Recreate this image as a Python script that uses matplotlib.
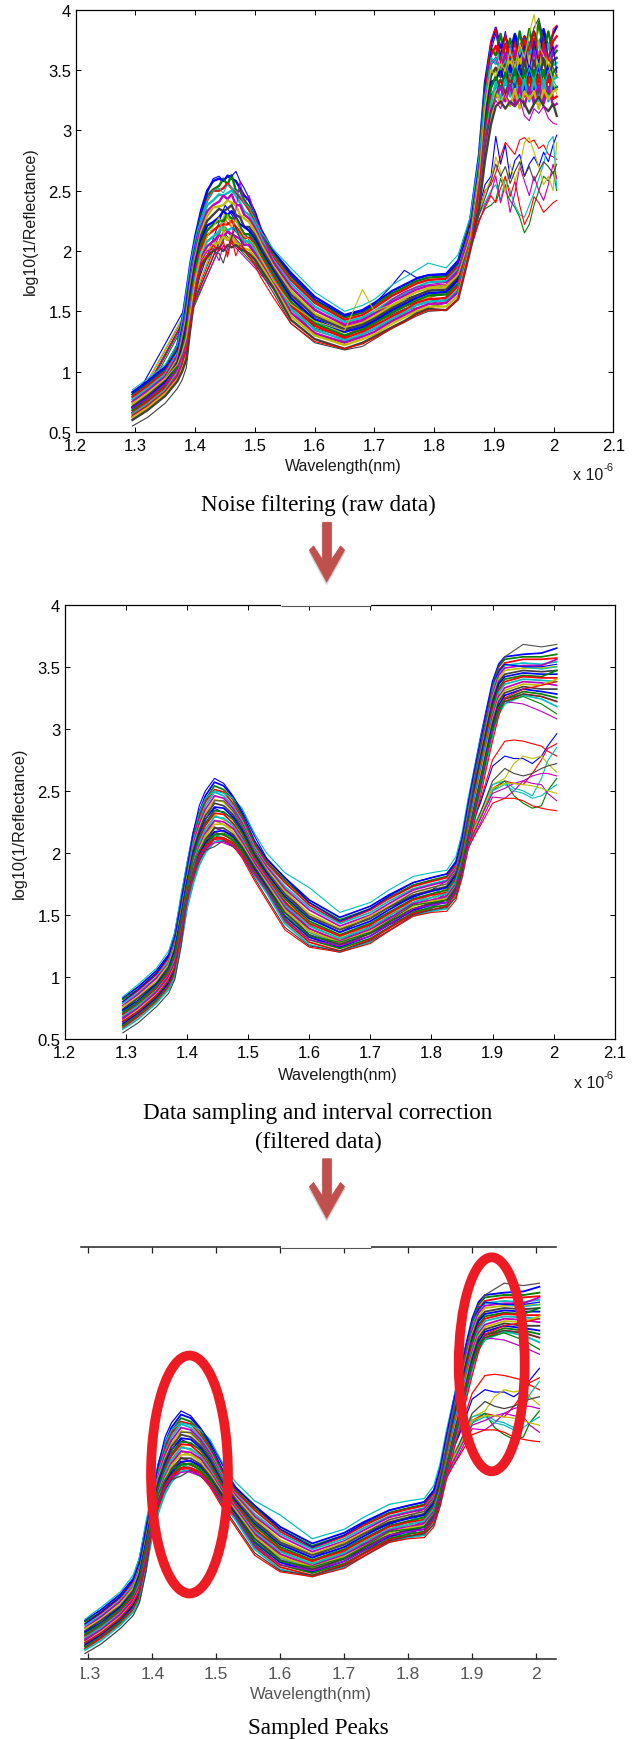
import numpy as np
import matplotlib
matplotlib.use("Agg")
import matplotlib.pyplot as plt
from matplotlib.patches import Ellipse, Polygon, Rectangle

W, H = 635, 1740

# matlab line colours
line_colors = ["#0000ff", "#008000", "#ff0000", "#00bfbf", "#bf00bf", "#bfbf00", "#404040"]

x_ticks = [1.2, 1.3, 1.4, 1.5, 1.6, 1.7, 1.8, 1.9, 2.0, 2.1]
x_labels = ["1.2", "1.3", "1.4", "1.5", "1.6", "1.7", "1.8", "1.9", "2", "2.1"]
y_ticks = [0.5, 1, 1.5, 2, 2.5, 3, 3.5, 4]
y_labels = ["0.5", "1", "1.5", "2", "2.5", "3", "3.5", "4"]
crop_ticks = [1.3, 1.4, 1.5, 1.6, 1.7, 1.8, 1.9, 2.0]
crop_labels = ["1.3", "1.4", "1.5", "1.6", "1.7", "1.8", "1.9", "2"]

# filtered spectra, one row per wavelength, one column per sample
filtered_wave = [1.295, 1.32, 1.35, 1.37, 1.38, 1.39, 1.40, 1.41, 1.42, 1.43, 1.445, 1.46, 1.475, 1.49, 1.51, 1.53, 1.56, 1.60,
                 1.65, 1.70, 1.73, 1.77, 1.80, 1.825, 1.84, 1.85, 1.86, 1.87, 1.88, 1.89, 1.90, 1.91, 1.92, 1.95, 1.98, 2.005]
filtered_main = [
    [.83, .82, .80, .79, .77, .76, .74, .73, .71, .70, .68, .67, .65, .64, .62, .61, .59, .58],
    [.92, .90, .89, .87, .86, .84, .83, .81, .80, .78, .77, .75, .74, .72, .71, .69, .68, .66],
    [1.05, 1.03, 1.02, 1.00, .99, .97, .95, .94, .92, .91, .89, .88, .86, .85, .83, .82, .80, .79],
    [1.18, 1.16, 1.15, 1.13, 1.11, 1.10, 1.08, 1.06, 1.05, 1.03, 1.01, 1.00, .98, .96, .95, .93, .92, .90],
    [1.35, 1.33, 1.31, 1.29, 1.27, 1.25, 1.23, 1.21, 1.19, 1.16, 1.14, 1.12, 1.10, 1.08, 1.06, 1.04, 1.02, 1.00],
    [1.62, 1.60, 1.58, 1.55, 1.53, 1.51, 1.49, 1.47, 1.45, 1.42, 1.40, 1.38, 1.36, 1.34, 1.31, 1.29, 1.27, 1.25],
    [1.90, 1.88, 1.86, 1.84, 1.82, 1.80, 1.78, 1.76, 1.74, 1.71, 1.69, 1.67, 1.65, 1.63, 1.61, 1.59, 1.57, 1.55],
    [2.16, 2.14, 2.11, 2.09, 2.06, 2.04, 2.02, 1.99, 1.97, 1.94, 1.92, 1.89, 1.87, 1.85, 1.82, 1.80, 1.77, 1.75],
    [2.33, 2.30, 2.28, 2.25, 2.23, 2.20, 2.18, 2.15, 2.13, 2.10, 2.08, 2.05, 2.03, 2.00, 1.98, 1.95, 1.93, 1.90],
    [2.46, 2.43, 2.41, 2.38, 2.35, 2.32, 2.30, 2.27, 2.24, 2.22, 2.19, 2.16, 2.14, 2.11, 2.08, 2.05, 2.03, 2.00],
    [2.57, 2.54, 2.51, 2.49, 2.46, 2.43, 2.40, 2.37, 2.34, 2.32, 2.29, 2.26, 2.23, 2.20, 2.17, 2.15, 2.12, 2.09],
    [2.54, 2.51, 2.49, 2.46, 2.44, 2.41, 2.38, 2.36, 2.33, 2.31, 2.28, 2.25, 2.23, 2.20, 2.18, 2.15, 2.12, 2.10],
    [2.45, 2.43, 2.40, 2.38, 2.36, 2.33, 2.31, 2.29, 2.27, 2.24, 2.22, 2.20, 2.17, 2.15, 2.13, 2.10, 2.08, 2.06],
    [2.32, 2.30, 2.28, 2.26, 2.24, 2.22, 2.20, 2.18, 2.16, 2.13, 2.11, 2.09, 2.07, 2.05, 2.03, 2.01, 1.99, 1.97],
    [2.10, 2.08, 2.07, 2.05, 2.03, 2.02, 2.00, 1.98, 1.97, 1.95, 1.93, 1.92, 1.90, 1.89, 1.87, 1.85, 1.84, 1.82],
    [1.95, 1.93, 1.92, 1.90, 1.89, 1.87, 1.85, 1.84, 1.82, 1.81, 1.79, 1.78, 1.76, 1.74, 1.73, 1.71, 1.70, 1.68],
    [1.80, 1.78, 1.76, 1.73, 1.71, 1.69, 1.67, 1.65, 1.63, 1.60, 1.58, 1.56, 1.54, 1.52, 1.49, 1.47, 1.45, 1.43],
    [1.62, 1.60, 1.58, 1.56, 1.54, 1.51, 1.49, 1.47, 1.45, 1.43, 1.41, 1.39, 1.37, 1.34, 1.32, 1.30, 1.28, 1.26],
    [1.48, 1.46, 1.44, 1.43, 1.41, 1.39, 1.38, 1.36, 1.34, 1.33, 1.31, 1.29, 1.28, 1.26, 1.24, 1.23, 1.21, 1.20],
    [1.57, 1.55, 1.54, 1.52, 1.50, 1.49, 1.47, 1.45, 1.43, 1.42, 1.40, 1.38, 1.37, 1.35, 1.33, 1.31, 1.30, 1.28],
    [1.66, 1.64, 1.63, 1.61, 1.59, 1.57, 1.56, 1.54, 1.52, 1.51, 1.49, 1.47, 1.45, 1.44, 1.42, 1.40, 1.39, 1.37],
    [1.76, 1.74, 1.73, 1.71, 1.70, 1.68, 1.66, 1.65, 1.63, 1.62, 1.60, 1.59, 1.57, 1.55, 1.54, 1.52, 1.51, 1.49],
    [1.80, 1.78, 1.77, 1.75, 1.74, 1.72, 1.70, 1.69, 1.67, 1.66, 1.64, 1.62, 1.61, 1.59, 1.58, 1.56, 1.54, 1.53],
    [1.83, 1.81, 1.80, 1.78, 1.77, 1.75, 1.73, 1.72, 1.70, 1.68, 1.67, 1.65, 1.63, 1.62, 1.60, 1.58, 1.57, 1.55],
    [1.93, 1.91, 1.90, 1.88, 1.87, 1.85, 1.83, 1.82, 1.80, 1.78, 1.77, 1.75, 1.73, 1.72, 1.70, 1.68, 1.67, 1.65],
    [2.12, 2.10, 2.08, 2.06, 2.05, 2.03, 2.01, 1.99, 1.97, 1.95, 1.93, 1.91, 1.89, 1.88, 1.86, 1.84, 1.82, 1.80],
    [2.40, 2.38, 2.36, 2.34, 2.32, 2.30, 2.28, 2.26, 2.24, 2.21, 2.19, 2.17, 2.15, 2.13, 2.11, 2.09, 2.07, 2.05],
    [2.66, 2.64, 2.62, 2.59, 2.57, 2.55, 2.53, 2.50, 2.48, 2.46, 2.44, 2.41, 2.39, 2.37, 2.35, 2.32, 2.30, 2.28],
    [2.92, 2.89, 2.87, 2.84, 2.82, 2.79, 2.77, 2.74, 2.72, 2.69, 2.67, 2.64, 2.62, 2.59, 2.57, 2.54, 2.52, 2.50],
    [3.15, 3.12, 3.10, 3.07, 3.05, 3.02, 3.00, 2.97, 2.95, 2.92, 2.90, 2.87, 2.85, 2.82, 2.80, 2.77, 2.75, 2.72],
    [3.38, 3.35, 3.33, 3.30, 3.28, 3.25, 3.23, 3.20, 3.18, 3.15, 3.12, 3.10, 3.07, 3.05, 3.02, 3.00, 2.97, 2.95],
    [3.52, 3.50, 3.47, 3.45, 3.43, 3.40, 3.38, 3.36, 3.33, 3.31, 3.29, 3.26, 3.24, 3.22, 3.19, 3.17, 3.15, 3.12],
    [3.58, 3.56, 3.53, 3.51, 3.49, 3.47, 3.44, 3.42, 3.40, 3.38, 3.36, 3.33, 3.31, 3.29, 3.27, 3.24, 3.22, 3.20],
    [3.60, 3.58, 3.56, 3.53, 3.51, 3.49, 3.47, 3.45, 3.43, 3.42, 3.40, 3.38, 3.36, 3.34, 3.32, 3.30, 3.28, 3.27],
    [3.61, 3.58, 3.56, 3.52, 3.51, 3.49, 3.46, 3.44, 3.42, 3.41, 3.39, 3.37, 3.35, 3.32, 3.30, 3.28, 3.26, 3.24],
    [3.65, 3.60, 3.57, 3.54, 3.56, 3.50, 3.47, 3.44, 3.47, 3.41, 3.38, 3.35, 3.40, 3.32, 3.28, 3.25, 3.22, 3.18],
]
# outer curves of the band, one row per sample
filtered_edge_colors = ["#00bfbf", "#0000ff", "#404040", "#ff0000", "#505050", "#bf00bf", "#008000"]
filtered_edge = [
    [.84, .94, 1.07, 1.21, 1.36, 1.66, 1.92, 2.16, 2.33, 2.44, 2.50, 2.48, 2.44, 2.36, 2.16, 2.00, 1.84, 1.72, 1.52, 1.60, 1.70, 1.81, 1.84, 1.86, 1.97, 2.16, 2.44, 2.68, 2.92, 3.14, 3.33, 3.46, 3.52, 3.50, 3.48, 3.50],
    [.80, .90, 1.03, 1.17, 1.32, 1.60, 1.88, 2.16, 2.38, 2.50, 2.60, 2.56, 2.46, 2.34, 2.14, 1.96, 1.80, 1.60, 1.45, 1.55, 1.65, 1.76, 1.80, 1.83, 1.92, 2.12, 2.40, 2.66, 2.90, 3.14, 3.36, 3.46, 3.52, 3.50, 3.50, 3.52],
    [.55, .63, .76, .87, .98, 1.24, 1.62, 1.84, 1.94, 2.02, 2.05, 2.10, 2.05, 1.98, 1.80, 1.64, 1.40, 1.25, 1.21, 1.29, 1.37, 1.50, 1.54, 1.56, 1.64, 1.84, 2.08, 2.30, 2.52, 2.76, 2.98, 3.14, 3.24, 3.28, 3.26, 3.22],
    [.64, .72, .85, .98, 1.08, 1.32, 1.60, 1.84, 1.98, 2.06, 2.11, 2.11, 2.06, 1.96, 1.78, 1.62, 1.38, 1.24, 1.20, 1.27, 1.37, 1.49, 1.52, 1.53, 1.62, 1.80, 2.03, 2.24, 2.45, 2.68, 2.90, 3.10, 3.25, 3.32, 3.35, 3.38],
    [.70, .79, .92, 1.05, 1.18, 1.44, 1.70, 1.96, 2.12, 2.26, 2.42, 2.42, 2.34, 2.22, 2.02, 1.86, 1.66, 1.48, 1.38, 1.47, 1.56, 1.68, 1.72, 1.75, 1.85, 2.05, 2.30, 2.58, 2.85, 3.10, 3.35, 3.50, 3.58, 3.68, 3.66, 3.68],
    [.66, .75, .88, 1.01, 1.12, 1.36, 1.62, 1.84, 1.96, 2.04, 2.08, 2.09, 2.06, 1.98, 1.83, 1.70, 1.46, 1.30, 1.25, 1.33, 1.42, 1.55, 1.58, 1.60, 1.70, 1.88, 2.10, 2.33, 2.55, 2.78, 2.98, 3.14, 3.22, 3.20, 3.14, 3.08],
    [.72, .80, .93, 1.06, 1.17, 1.42, 1.68, 1.90, 2.02, 2.10, 2.15, 2.16, 2.12, 2.03, 1.86, 1.72, 1.50, 1.33, 1.28, 1.36, 1.45, 1.58, 1.60, 1.62, 1.73, 1.92, 2.15, 2.36, 2.58, 2.80, 3.00, 3.14, 3.22, 3.26, 3.20, 3.12],
]
# low group on the right, the body is hidden inside the band
filtered_low_wave = [1.295, 1.35, 1.38, 1.40, 1.42, 1.445, 1.49, 1.53, 1.60, 1.65, 1.73, 1.80, 1.84, 1.86, 1.88, 1.90, 1.92, 1.935, 1.95, 1.965, 1.98, 1.99, 2.005]
filtered_low_colors = ["#ff0000", "#0000ff", "#ff0000", "#bfbf00", "#00bfbf", "#404040", "#008000", "#bf00bf", "#ff0000", "#00bfbf", "#bf00bf", "#bfbf00"]
filtered_low = [
    [.70, .91, 1.12, 1.66, 2.06, 2.26, 2.16, 1.80, 1.42, 1.30, 1.50, 1.64, 1.76, 2.12, 2.42, 2.75, 2.90, 2.91, 2.90, 2.88, 2.86, 2.82, 2.78],
    [.74, .95, 1.16, 1.72, 2.14, 2.36, 2.24, 1.86, 1.48, 1.36, 1.56, 1.70, 1.82, 2.15, 2.40, 2.70, 2.78, 2.76, 2.76, 2.72, 2.78, 2.86, 2.96],
    [.62, .83, 1.05, 1.58, 1.96, 2.15, 2.06, 1.74, 1.36, 1.26, 1.45, 1.59, 1.70, 2.06, 2.28, 2.52, 2.58, 2.56, 2.55, 2.64, 2.75, 2.84, 2.88],
    [.66, .87, 1.10, 1.62, 2.02, 2.26, 2.16, 1.80, 1.41, 1.30, 1.50, 1.62, 1.74, 2.10, 2.32, 2.55, 2.60, 2.72, 2.78, 2.76, 2.78, 2.72, 2.65],
    [.68, .89, 1.11, 1.64, 2.06, 2.30, 2.20, 1.84, 1.44, 1.33, 1.52, 1.66, 1.78, 2.12, 2.33, 2.55, 2.58, 2.52, 2.50, 2.46, 2.60, 2.74, 2.85],
    [.64, .85, 1.07, 1.60, 1.98, 2.20, 2.12, 1.76, 1.39, 1.29, 1.48, 1.60, 1.72, 2.08, 2.32, 2.58, 2.68, 2.64, 2.62, 2.64, 2.68, 2.70, 2.72],
    [.60, .81, 1.03, 1.56, 1.94, 2.14, 2.04, 1.72, 1.34, 1.25, 1.43, 1.56, 1.68, 2.04, 2.28, 2.50, 2.58, 2.46, 2.40, 2.36, 2.38, 2.50, 2.60],
    [.63, .84, 1.06, 1.58, 1.94, 2.11, 2.02, 1.70, 1.33, 1.24, 1.42, 1.55, 1.67, 2.03, 2.24, 2.45, 2.44, 2.50, 2.58, 2.62, 2.64, 2.64, 2.62],
    [.66, .87, 1.09, 1.60, 1.98, 2.17, 2.08, 1.76, 1.37, 1.27, 1.46, 1.58, 1.70, 2.05, 2.22, 2.40, 2.44, 2.44, 2.42, 2.38, 2.36, 2.35, 2.34],
    [.61, .82, 1.04, 1.56, 1.96, 2.15, 2.06, 1.74, 1.36, 1.26, 1.45, 1.57, 1.69, 2.05, 2.27, 2.50, 2.55, 2.50, 2.48, 2.44, 2.46, 2.50, 2.55],
    [.65, .86, 1.08, 1.60, 2.00, 2.21, 2.10, 1.78, 1.39, 1.28, 1.47, 1.60, 1.72, 2.06, 2.28, 2.48, 2.52, 2.56, 2.58, 2.56, 2.55, 2.48, 2.42],
    [.69, .90, 1.12, 1.64, 2.06, 2.31, 2.18, 1.82, 1.43, 1.32, 1.51, 1.64, 1.76, 2.10, 2.30, 2.52, 2.56, 2.56, 2.55, 2.54, 2.52, 2.50, 2.48],
]

# raw spectra, same layout
raw_wave = [1.295, 1.32, 1.35, 1.37, 1.378, 1.385, 1.392, 1.40, 1.41, 1.42, 1.43, 1.44, 1.447, 1.454, 1.461, 1.468, 1.475, 1.482,
            1.49, 1.50, 1.51, 1.53, 1.56, 1.60, 1.65, 1.68, 1.70, 1.73, 1.75, 1.77, 1.79, 1.82, 1.84, 1.86, 1.875,
            1.885, 1.895, 1.903, 1.911, 1.919, 1.927, 1.935, 1.943, 1.951, 1.959, 1.967, 1.975, 1.983, 1.991, 1.999, 2.005]
raw_main = [
    [.83, .81, .79, .77, .75, .73, .71, .70, .68, .66, .65, .63, .62, .60],
    [.92, .90, .88, .86, .84, .82, .80, .78, .76, .75, .73, .71, .70, .68],
    [1.04, 1.02, 1.00, .98, .96, .94, .93, .91, .89, .87, .85, .83, .82, .80],
    [1.22, 1.20, 1.17, 1.15, 1.13, 1.10, 1.08, 1.06, 1.04, 1.01, .99, .97, .94, .92],
    [1.42, 1.39, 1.36, 1.32, 1.29, 1.26, 1.23, 1.19, 1.16, 1.13, 1.10, 1.06, 1.03, 1.00],
    [1.66, 1.62, 1.57, 1.53, 1.49, 1.44, 1.40, 1.36, 1.32, 1.27, 1.23, 1.19, 1.14, 1.10],
    [1.90, 1.86, 1.82, 1.78, 1.75, 1.71, 1.67, 1.63, 1.59, 1.55, 1.52, 1.48, 1.44, 1.40],
    [2.12, 2.08, 2.05, 2.01, 1.98, 1.94, 1.91, 1.87, 1.84, 1.80, 1.77, 1.73, 1.70, 1.66],
    [2.34, 2.30, 2.27, 2.23, 2.20, 2.16, 2.13, 2.09, 2.06, 2.02, 1.99, 1.95, 1.92, 1.88],
    [2.50, 2.46, 2.42, 2.38, 2.33, 2.29, 2.25, 2.21, 2.17, 2.13, 2.08, 2.04, 2.00, 1.96],
    [2.58, 2.51, 2.50, 2.42, 2.38, 2.36, 2.30, 2.24, 2.22, 2.17, 2.12, 2.08, 2.05, 2.00],
    [2.60, 2.54, 2.50, 2.47, 2.41, 2.37, 2.35, 2.28, 2.25, 2.21, 2.16, 2.13, 2.07, 2.03],
    [2.58, 2.60, 2.52, 2.46, 2.46, 2.38, 2.33, 2.33, 2.25, 2.22, 2.20, 2.12, 2.12, 2.00],
    [2.62, 2.55, 2.56, 2.48, 2.43, 2.42, 2.35, 2.30, 2.30, 2.22, 2.17, 2.16, 2.09, 2.05],
    [2.60, 2.63, 2.52, 2.50, 2.47, 2.40, 2.38, 2.33, 2.27, 2.25, 2.19, 2.14, 2.13, 2.03],
    [2.58, 2.50, 2.48, 2.46, 2.38, 2.38, 2.30, 2.28, 2.27, 2.20, 2.18, 2.12, 2.06, 2.05],
    [2.52, 2.50, 2.44, 2.40, 2.38, 2.30, 2.28, 2.22, 2.20, 2.16, 2.12, 2.10, 2.05, 2.02],
    [2.46, 2.42, 2.40, 2.33, 2.30, 2.27, 2.20, 2.20, 2.14, 2.11, 2.08, 2.05, 2.02, 2.00],
    [2.42, 2.37, 2.34, 2.30, 2.27, 2.24, 2.20, 2.17, 2.14, 2.11, 2.08, 2.05, 2.01, 1.98],
    [2.32, 2.28, 2.25, 2.22, 2.19, 2.16, 2.13, 2.10, 2.07, 2.04, 2.01, 1.98, 1.95, 1.93],
    [2.18, 2.16, 2.13, 2.11, 2.08, 2.06, 2.03, 2.00, 1.98, 1.95, 1.93, 1.90, 1.88, 1.85],
    [2.00, 1.98, 1.95, 1.93, 1.91, 1.88, 1.86, 1.84, 1.82, 1.79, 1.77, 1.75, 1.72, 1.70],
    [1.82, 1.79, 1.76, 1.73, 1.70, 1.67, 1.64, 1.61, 1.58, 1.55, 1.52, 1.49, 1.46, 1.43],
    [1.62, 1.59, 1.57, 1.54, 1.51, 1.48, 1.46, 1.43, 1.40, 1.38, 1.35, 1.32, 1.30, 1.27],
    [1.47, 1.45, 1.43, 1.41, 1.39, 1.37, 1.35, 1.33, 1.30, 1.28, 1.26, 1.24, 1.22, 1.19],
    [1.51, 1.49, 1.47, 1.45, 1.43, 1.41, 1.39, 1.37, 1.35, 1.33, 1.31, 1.29, 1.27, 1.24],
    [1.57, 1.55, 1.53, 1.50, 1.48, 1.46, 1.44, 1.42, 1.40, 1.38, 1.36, 1.33, 1.31, 1.29],
    [1.67, 1.65, 1.63, 1.60, 1.58, 1.55, 1.53, 1.51, 1.49, 1.46, 1.44, 1.42, 1.40, 1.37],
    [1.72, 1.70, 1.68, 1.65, 1.63, 1.61, 1.58, 1.56, 1.54, 1.51, 1.49, 1.47, 1.45, 1.42],
    [1.77, 1.75, 1.73, 1.70, 1.68, 1.66, 1.63, 1.61, 1.59, 1.57, 1.55, 1.52, 1.50, 1.48],
    [1.80, 1.78, 1.76, 1.74, 1.71, 1.69, 1.67, 1.65, 1.63, 1.60, 1.58, 1.56, 1.54, 1.52],
    [1.81, 1.79, 1.77, 1.75, 1.72, 1.70, 1.68, 1.66, 1.64, 1.61, 1.59, 1.57, 1.54, 1.51],
    [1.92, 1.90, 1.87, 1.85, 1.83, 1.80, 1.78, 1.76, 1.73, 1.71, 1.68, 1.66, 1.63, 1.60],
    [2.25, 2.23, 2.21, 2.19, 2.17, 2.15, 2.13, 2.12, 2.10, 2.08, 2.06, 2.04, 2.02, 2.00],
    [2.80, 2.76, 2.73, 2.69, 2.66, 2.62, 2.59, 2.55, 2.52, 2.48, 2.45, 2.42, 2.38, 2.35],
    [3.40, 3.35, 3.30, 3.25, 3.20, 3.15, 3.10, 3.05, 3.00, 2.95, 2.90, 2.85, 2.80, 2.75],
    [3.72, 3.68, 3.62, 3.60, 3.55, 3.50, 3.45, 3.40, 3.35, 3.28, 3.22, 3.16, 3.10, 3.05],
    [3.85, 3.62, 3.70, 3.55, 3.60, 3.48, 3.52, 3.42, 3.45, 3.36, 3.40, 3.28, 3.32, 3.20],
    [3.68, 3.80, 3.58, 3.66, 3.50, 3.56, 3.44, 3.50, 3.34, 3.42, 3.26, 3.36, 3.22, 3.24],
    [3.78, 3.60, 3.72, 3.52, 3.64, 3.46, 3.58, 3.38, 3.48, 3.30, 3.42, 3.24, 3.30, 3.18],
    [3.65, 3.76, 3.55, 3.68, 3.48, 3.60, 3.40, 3.54, 3.32, 3.46, 3.28, 3.38, 3.20, 3.24],
    [3.80, 3.58, 3.74, 3.50, 3.66, 3.44, 3.56, 3.36, 3.50, 3.28, 3.44, 3.22, 3.34, 3.20],
    [3.68, 3.82, 3.56, 3.70, 3.46, 3.62, 3.38, 3.54, 3.30, 3.44, 3.26, 3.36, 3.18, 3.26],
    [3.78, 3.62, 3.74, 3.52, 3.64, 3.44, 3.58, 3.34, 3.50, 3.28, 3.42, 3.20, 3.32, 3.22],
    [3.70, 3.84, 3.60, 3.72, 3.48, 3.62, 3.40, 3.52, 3.30, 3.44, 3.24, 3.36, 3.26, 3.14],
    [3.82, 3.64, 3.76, 3.54, 3.66, 3.44, 3.58, 3.34, 3.50, 3.26, 3.42, 3.22, 3.32, 3.22],
    [3.70, 3.90, 3.60, 3.74, 3.50, 3.64, 3.40, 3.54, 3.30, 3.46, 3.24, 3.38, 3.18, 3.28],
    [3.84, 3.66, 3.78, 3.54, 3.68, 3.44, 3.60, 3.36, 3.50, 3.26, 3.42, 3.22, 3.34, 3.20],
    [3.68, 3.82, 3.58, 3.72, 3.48, 3.62, 3.40, 3.54, 3.30, 3.46, 3.24, 3.36, 3.26, 3.16],
    [3.80, 3.62, 3.74, 3.54, 3.66, 3.44, 3.58, 3.34, 3.48, 3.26, 3.42, 3.20, 3.32, 3.22],
    [3.86, 3.66, 3.78, 3.56, 3.70, 3.46, 3.60, 3.36, 3.52, 3.28, 3.44, 3.22, 3.34, 3.12],
]
raw_edge_colors = ["#0000ff", "#bf00bf", "#404040", "#ff0000", "#00bfbf", "#bfbf00"]
raw_edge = [
    [.82, .91, 1.03, 1.18, 1.38, 1.60, 1.86, 2.08, 2.30, 2.48, 2.60, 2.62, 2.58, 2.63, 2.62, 2.66, 2.58, 2.52, 2.44, 2.32, 2.18, 2.00, 1.80, 1.60, 1.46, 1.50, 1.56, 1.72, 1.84, 1.78, 1.80, 1.80, 1.90, 2.22, 2.76, 3.36, 3.66, 3.80, 3.62, 3.82, 3.58, 3.78, 3.60, 3.70, 3.50, 3.74, 3.56, 3.82, 3.60, 3.70, 3.48],
    [.70, .78, .90, 1.02, 1.12, 1.24, 1.46, 1.72, 1.92, 2.00, 2.02, 1.92, 2.05, 1.98, 2.10, 2.34, 2.58, 2.40, 2.46, 2.30, 2.16, 1.92, 1.70, 1.52, 1.38, 1.42, 1.48, 1.60, 1.66, 1.70, 1.72, 1.74, 1.84, 2.15, 2.55, 2.95, 3.15, 3.25, 3.18, 3.30, 3.22, 3.20, 3.26, 3.12, 3.08, 3.18, 3.14, 3.20, 3.10, 3.06, 3.05],
    [.55, .62, .74, .86, .93, 1.03, 1.32, 1.62, 1.86, 1.94, 2.00, 1.98, 1.90, 2.02, 2.12, 2.20, 2.10, 2.00, 1.95, 1.90, 1.82, 1.66, 1.40, 1.24, 1.18, 1.21, 1.27, 1.36, 1.41, 1.46, 1.50, 1.51, 1.60, 2.02, 2.40, 2.85, 3.15, 3.30, 3.42, 3.30, 3.44, 3.36, 3.50, 3.60, 3.70, 3.85, 3.93, 3.75, 3.60, 3.52, 3.45],
    [.64, .72, .84, .96, 1.06, 1.18, 1.40, 1.66, 1.90, 1.96, 2.05, 2.00, 2.08, 1.95, 2.10, 1.96, 2.05, 2.02, 1.96, 1.88, 1.78, 1.62, 1.40, 1.25, 1.19, 1.23, 1.28, 1.36, 1.41, 1.47, 1.51, 1.51, 1.60, 2.00, 2.50, 3.30, 3.75, 3.85, 3.55, 3.80, 3.60, 3.62, 3.70, 3.78, 3.65, 3.82, 3.60, 3.72, 3.58, 3.84, 3.87],
    [.85, .94, 1.06, 1.22, 1.42, 1.66, 1.90, 2.10, 2.28, 2.42, 2.50, 2.52, 2.48, 2.55, 2.52, 2.50, 2.46, 2.40, 2.36, 2.26, 2.16, 2.02, 1.86, 1.66, 1.50, 1.55, 1.60, 1.72, 1.78, 1.84, 1.90, 1.86, 1.97, 2.28, 2.78, 3.30, 3.55, 3.60, 3.50, 3.58, 3.42, 3.55, 3.46, 3.38, 3.52, 3.40, 3.55, 3.34, 3.50, 3.42, 3.36],
    [.74, .82, .94, 1.06, 1.16, 1.28, 1.50, 1.76, 1.98, 2.12, 2.20, 2.28, 2.14, 2.30, 2.20, 2.26, 2.18, 2.12, 2.10, 2.04, 1.94, 1.76, 1.56, 1.42, 1.34, 1.68, 1.50, 1.56, 1.60, 1.66, 1.70, 1.72, 1.80, 2.12, 2.62, 3.20, 3.50, 3.45, 3.55, 3.50, 3.66, 3.52, 3.72, 3.60, 3.80, 3.96, 3.70, 3.62, 3.55, 3.40, 3.30],
]
raw_low_wave = [1.295, 1.40, 1.45, 1.50, 1.60, 1.65, 1.75, 1.82, 1.86, 1.875, 1.885, 1.895, 1.903, 1.911, 1.919, 1.927,
                1.935, 1.943, 1.951, 1.959, 1.967, 1.975, 1.983, 1.991, 1.999, 2.005]
raw_low_colors = ["#ff0000", "#0000ff", "#008000", "#00bfbf", "#bf00bf", "#ff0000", "#bfbf00", "#404040"]
raw_low = [
    [.70, 1.62, 2.26, 1.98, 1.38, 1.30, 1.54, 1.66, 2.06, 2.32, 2.50, 2.55, 2.65, 2.78, 2.90, 2.85, 2.80, 2.92, 2.94, 2.90, 2.92, 2.85, 2.88, 2.80, 2.78, 2.76],
    [.74, 1.68, 2.38, 2.02, 1.44, 1.36, 1.60, 1.72, 2.10, 2.36, 2.55, 2.62, 2.95, 2.72, 2.88, 2.60, 2.75, 2.80, 2.62, 2.72, 2.78, 2.70, 2.82, 2.74, 2.88, 2.96],
    [.60, 1.56, 2.14, 1.88, 1.31, 1.25, 1.47, 1.58, 2.02, 2.26, 2.35, 2.38, 2.42, 2.60, 2.50, 2.42, 2.36, 2.28, 2.15, 2.22, 2.38, 2.50, 2.62, 2.58, 2.66, 2.50],
    [.68, 1.64, 2.30, 2.00, 1.41, 1.33, 1.56, 1.68, 2.08, 2.30, 2.40, 2.50, 2.55, 2.42, 2.60, 2.50, 2.38, 2.30, 2.28, 2.38, 2.48, 2.60, 2.72, 2.90, 2.95, 2.52],
    [.63, 1.58, 2.12, 1.86, 1.30, 1.24, 1.46, 1.57, 2.00, 2.24, 2.38, 2.48, 2.62, 2.40, 2.55, 2.32, 2.48, 2.70, 2.58, 2.46, 2.62, 2.50, 2.42, 2.55, 2.72, 2.60],
    [.66, 1.60, 2.18, 1.90, 1.34, 1.27, 1.50, 1.60, 2.02, 2.25, 2.36, 2.46, 2.40, 2.52, 2.62, 2.45, 2.58, 2.38, 2.22, 2.30, 2.45, 2.40, 2.32, 2.36, 2.40, 2.42],
    [.69, 1.64, 2.32, 1.97, 1.40, 1.32, 1.55, 1.66, 2.08, 2.32, 2.48, 2.60, 2.78, 2.66, 2.48, 2.72, 2.58, 2.70, 2.90, 2.94, 2.82, 2.70, 2.55, 2.62, 2.50, 2.90],
    [.64, 1.60, 2.20, 1.92, 1.36, 1.29, 1.52, 1.62, 2.05, 2.30, 2.44, 2.58, 2.72, 2.62, 2.70, 2.56, 2.66, 2.74, 2.62, 2.70, 2.58, 2.66, 2.74, 2.70, 2.64, 2.72],
]


def px_axes(fig, left, top, right, bottom):
    return fig.add_axes([left / W, 1 - bottom / H, (right - left) / W, (bottom - top) / H])


def draw_raw(ax):
    for color, vals in zip(raw_low_colors, raw_low):
        ax.plot(raw_low_wave, vals, color=color, lw=0.8)
    curves = np.array(raw_main).T
    for i in range(curves.shape[0]):
        ax.plot(raw_wave, curves[i], color=line_colors[i % 7], lw=1.7)
    for color, vals in zip(raw_edge_colors, raw_edge):
        ax.plot(raw_wave, vals, color=color, lw=0.8)


def draw_filtered(ax, lw_main, lw_thin):
    for color, vals in zip(filtered_low_colors, filtered_low):
        ax.plot(filtered_low_wave, vals, color=color, lw=lw_thin)
    curves = np.array(filtered_main).T
    for i in range(curves.shape[0]):
        ax.plot(filtered_wave, curves[i], color=line_colors[i % 7], lw=lw_main)
    for color, vals in zip(filtered_edge_colors, filtered_edge):
        ax.plot(filtered_wave, vals, color=color, lw=lw_thin)


def style_full(ax):
    ax.set_xlim(1.2, 2.1)
    ax.set_ylim(0.5, 4)
    ax.set_xticks(x_ticks, x_labels)
    ax.set_yticks(y_ticks, y_labels)
    ax.tick_params(direction="in", length=3.3, width=0.7, top=True, right=True, labelsize=12)
    ax.tick_params(axis="x", pad=4.5)
    ax.tick_params(axis="y", pad=3.2)
    for s in ax.spines.values():
        s.set_linewidth(0.9)


plt.rcParams["font.family"] = ["Liberation Sans", "DejaVu Sans"]
fig = plt.figure(figsize=(W / 100, H / 100), dpi=100)

ax1 = px_axes(fig, 75.7, 10.7, 613.5, 433)
draw_raw(ax1)
style_full(ax1)

ax2 = px_axes(fig, 64.8, 605.7, 614.8, 1040)
draw_filtered(ax2, 1.25, 0.8)
style_full(ax2)

ax3 = px_axes(fig, 81, 1248, 555.7, 1659.7)
draw_filtered(ax3, 1.35, 0.9)
ax3.set_xlim(1.2886, 2.0305)
ax3.set_ylim(0.506, 3.986)
ax3.set_xticks(crop_ticks, crop_labels)
ax3.set_yticks([])
ax3.tick_params(direction="in", length=4, width=0.9, top=True, labelsize=12.5, pad=5.4, colors="#222222", labelcolor="#555555")
ax3.spines["left"].set_visible(False)
ax3.spines["right"].set_visible(False)
ax3.spines["top"].set_linewidth(1.1)
ax3.spines["bottom"].set_linewidth(1.1)
ax3.spines["top"].set_color("#222222")
ax3.spines["bottom"].set_color("#222222")

# overlay in pixel coordinates for captions, arrows and circles
ov = fig.add_axes([0, 0, 1, 1], zorder=10)
ov.set_xlim(0, W)
ov.set_ylim(H, 0)
ov.axis("off")

sans = dict(family=["Liberation Sans", "DejaVu Sans"], color="#1a1a1a")
serif = dict(family=["Liberation Serif", "DejaVu Serif"], color="black", fontsize=16.7, ha="center", va="center")

ov.text(30, 221, "log10(1/Reflectance)", rotation=90, ha="center", va="center", fontsize=11.5, **sans)
ov.text(343, 467, "Wavelength(nm)", ha="center", va="center", fontsize=11.5, **sans)
ov.text(603.5, 476, "x 10", ha="right", va="center", fontsize=11.5, **sans)
ov.text(603.5, 468, "-6", ha="left", va="center", fontsize=8, **sans)

ov.text(19, 823, "log10(1/Reflectance)", rotation=90, ha="center", va="center", fontsize=11.8, **sans)
ov.text(338, 1075.5, "Wavelength(nm)", ha="center", va="center", fontsize=11.8, **sans)
ov.text(604, 1083.7, "x 10", ha="right", va="center", fontsize=11.5, **sans)
ov.text(604, 1076, "-6", ha="left", va="center", fontsize=8, **sans)

ov.text(310.6, 1695, "Wavelength(nm)", ha="center", va="center", fontsize=12,
        family=["Liberation Sans", "DejaVu Sans"], color="#555555")
ov.add_patch(Rectangle((60, 1662), 21, 24, fc="white", ec="none"))

ov.text(318, 505, "Noise filtering (raw data)", **serif)
ov.text(318, 1114, "Data sampling and interval correction", **serif)
ov.text(318, 1142.5, "(filtered data)", **serif)
ov.text(318, 1729, "Sampled Peaks", **serif)

# the pasted strip on the top edge of the two lower plots
for y in (605.7, 1248):
    ov.plot([281, 371], [y, y], color="white", lw=1.6, solid_capstyle="butt")
    ov.plot([281, 371], [y + 1.2, y + 1.2], color="#555555", lw=0.8, solid_capstyle="butt")


def arrow(dy):
    pts = np.array([[326.7, 582.7], [309.5, 551], [313.5, 547], [322.7, 561], [322.7, 523.3],
                    [331.3, 523.3], [331.3, 561], [340.5, 547], [344.5, 551]])
    pts = pts + [0, dy]
    for off, a in ((3.0, 0.06), (2.0, 0.08), (1.0, 0.1)):
        ov.add_patch(Polygon(pts + [0, off], closed=True, fc="#555555", ec="#555555", lw=1.5, alpha=a, joinstyle="round"))
    ov.add_patch(Polygon(pts, closed=True, fc="#C0504D", ec="#C0504D", lw=0.6, joinstyle="round"))


arrow(0)
arrow(636.5)

ov.add_patch(Ellipse((189.5, 1475.5), 77, 238, fc="none", ec="#ED1C24", lw=7))
ov.add_patch(Ellipse((491.7, 1365.3), 66, 214, fc="none", ec="#ED1C24", lw=7))

fig.savefig("out.png", dpi=100)
